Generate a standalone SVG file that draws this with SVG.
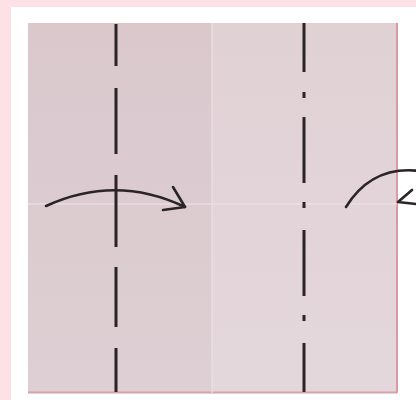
<svg xmlns="http://www.w3.org/2000/svg" width="416" height="400" viewBox="0 0 416 400">
<defs>
<style>
.fold{stroke:#2a2426;stroke-width:3;fill:none;stroke-linecap:butt}
.arrow{stroke:#2a2426;stroke-width:2.6;fill:none;stroke-linecap:round;stroke-linejoin:round}
.crease{stroke:#eee3e6;stroke-width:1.5;opacity:0.7}
</style>
<linearGradient id="lp" x1="0" y1="0" x2="0" y2="1">
<stop offset="0" stop-color="#dac8cd"/><stop offset="1" stop-color="#ddcfd3"/>
</linearGradient>
<linearGradient id="rp" x1="0" y1="0" x2="0" y2="1">
<stop offset="0" stop-color="#e0d1d5"/><stop offset="1" stop-color="#e4d7db"/>
</linearGradient>
</defs>
<rect x="0" y="0" width="416" height="400" fill="#fde1e7"/>
<rect x="11" y="7" width="405" height="393" fill="#ffffff"/>
<g id="paper">
<rect x="28" y="23" width="369" height="370" fill="url(#lp)"/>
<rect x="212" y="23" width="185" height="370" fill="url(#rp)"/>
<line x1="397" y1="23" x2="397" y2="393" stroke="#d99aa2" stroke-width="2"/>
<line x1="28" y1="392.5" x2="397" y2="392.5" stroke="#d4a2aa" stroke-width="2"/>
<line x1="28" y1="204" x2="397" y2="204" class="crease"/>
<line x1="212" y1="23" x2="212" y2="393" class="crease"/>
</g>
<g id="valley-fold">
<path class="fold" d="M116,24V66M116,88V154M116,175V247M116,267V327M116,348V392"/>
</g>
<g id="mountain-fold">
<path class="fold" d="M304,23V72M304,117V183M304,230V296M304,343V392"/>
<path class="fold" d="M304,92V98M304,202V208M304,315V321"/>
</g>
<g id="connectors">
<path class="arrow" d="M46,206Q116,174 185,207"/>
<path class="arrow" d="M173,187L185,207L163,210"/>
<path class="arrow" d="M346,207Q372,165 420,171"/>
<path class="arrow" d="M412,190L398,202L416,204"/>
</g>
</svg>
